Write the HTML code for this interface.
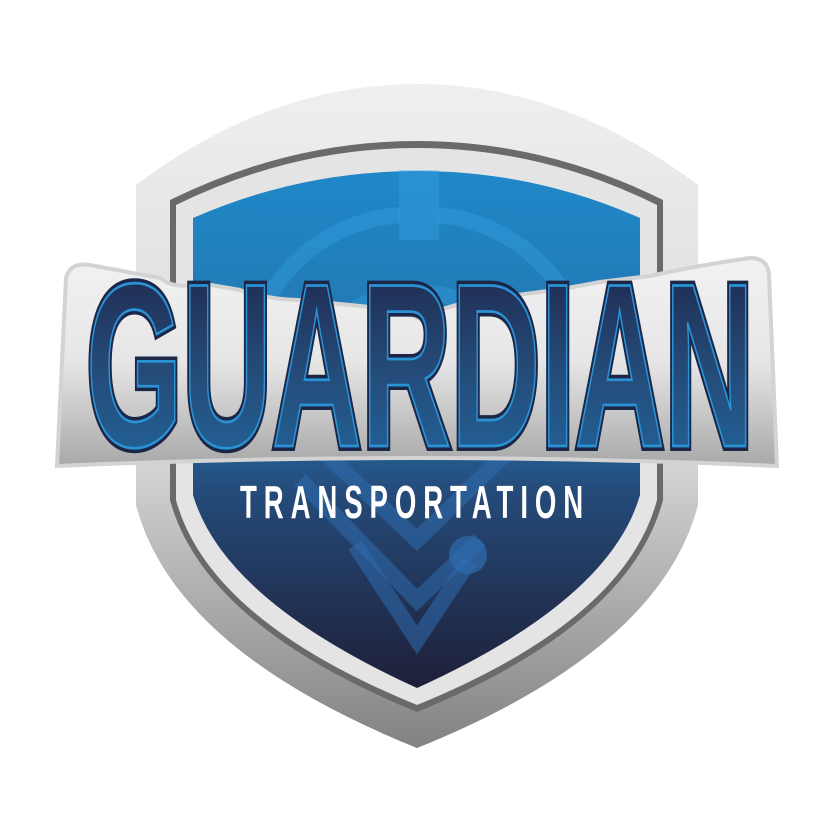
<!DOCTYPE html>
<html><head><meta charset="utf-8"><style>
html,body{margin:0;padding:0;background:#fff;width:834px;height:834px;overflow:hidden}
svg{display:block}
</style></head><body>
<svg width="834" height="834" viewBox="0 0 834 834">
<defs>
<linearGradient id="outerG" x1="0" y1="0" x2="0" y2="1">
<stop offset="0" stop-color="#efeff0"/><stop offset="0.55" stop-color="#d9d8d9"/><stop offset="1" stop-color="#838283"/></linearGradient>
<linearGradient id="blueG" x1="0" y1="0" x2="0" y2="1">
<stop offset="0" stop-color="#2088c9"/><stop offset="0.45" stop-color="#2371a8"/><stop offset="0.62" stop-color="#254b7a"/><stop offset="1" stop-color="#1e1f38"/></linearGradient>
<linearGradient id="bannerG" x1="0" y1="0" x2="0" y2="1">
<stop offset="0" stop-color="#f2f2f3"/><stop offset="0.5" stop-color="#e6e6e7"/><stop offset="1" stop-color="#a9a8a9"/></linearGradient>
<linearGradient id="textG" x1="0" y1="0" x2="0" y2="1">
<stop offset="0" stop-color="#1e2146"/><stop offset="0.5" stop-color="#244a77"/><stop offset="1" stop-color="#226aa2"/></linearGradient>
</defs>
<path d="M136,185 Q270,84 417,84 Q564,84 698,185 L698,505 Q660,650 417,748 Q174,650 136,505 Z" fill="url(#outerG)"/>
<path d="M170,200 Q290,141 417,141 Q544,141 663,200 L663,500 Q630,625 417,712 Q204,625 170,500 Z" fill="#6b6a6b"/>
<path d="M176,205 Q292,148 417,148 Q542,148 657,205 L657,500 Q625,620 417,705 Q209,620 176,500 Z" fill="#e4e4e5"/>
<path d="M193,218 Q300,171 417,171 Q534,171 640,218 L640,495 Q610,600 417,688 Q224,600 193,495 Z" fill="url(#blueG)"/>
<g fill="none" stroke="#3aa6e4" stroke-opacity="0.35" stroke-width="16">
<path d="M250,420 A167,167 0 0 1 400,215"/>
<path d="M438,215 A167,167 0 0 1 585,420"/>
<path d="M290,420 A127,127 0 0 1 545,420"/>
<path d="M335,420 A82,82 0 0 1 500,420"/>
<rect x="399" y="170" width="40" height="70" fill="#3aa6e4" fill-opacity="0.35" stroke="none"/>
</g>
<g fill="none" stroke="#2f6cae" stroke-opacity="0.55" stroke-width="16">
<path d="M290,420 L417,540 L530,430"/>
<path d="M300,480 L417,600 L480,540"/>
<path d="M355,545 L417,640 L470,560"/>
<circle cx="468" cy="555" r="19" fill="#2f6cae" fill-opacity="0.7" stroke="none"/>
</g>
<path d="M57,466 L66,278 Q70,262 90,265 L160,278 Q175,290 200,283 L240,290 Q270,300 300,300 L360,306 Q400,310 417,318 Q450,305 480,300 L540,292 Q570,288 600,282 L650,276 Q700,265 750,258 Q768,258 769,275 L777,466 Q417,450 57,466 Z" fill="url(#bannerG)" stroke="#d4d3d4" stroke-width="4"/>
<g transform="translate(0 446) scale(1 1.1) translate(0 -446)">
<text x="86" y="446" textLength="668" lengthAdjust="spacingAndGlyphs" font-family="'Liberation Sans',sans-serif" font-weight="bold" font-size="212" fill="url(#textG)" stroke="#1c2748" stroke-width="9" paint-order="stroke">GUARDIAN</text>
<text x="86" y="446" textLength="668" lengthAdjust="spacingAndGlyphs" font-family="'Liberation Sans',sans-serif" font-weight="bold" font-size="212" fill="none" stroke="#2a93d6" stroke-width="2.5">GUARDIAN</text>
</g>
<g transform="scale(0.6 1)">
<text x="400" y="518" textLength="572" lengthAdjust="spacing" font-family="'Liberation Sans',sans-serif" font-weight="bold" font-size="46" fill="#ffffff">TRANSPORTATION</text>
</g>
</svg>
</body></html>
